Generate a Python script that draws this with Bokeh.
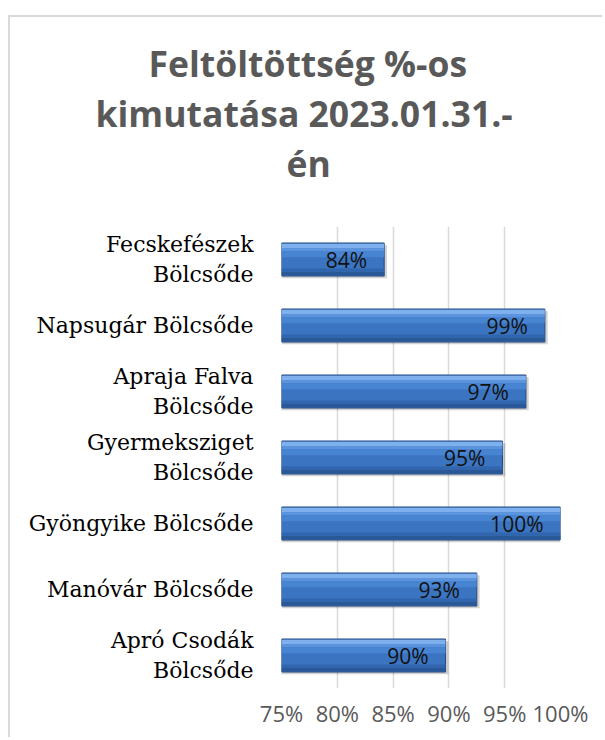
from bokeh.plotting import figure
from bokeh.models import FactorRange, Range1d, FixedTicker, Title, ColumnDataSource
from bokeh.transform import dodge
from bokeh.core.properties import value
from bokeh.embed import file_html
from bokeh.resources import INLINE

# ---- data ----
categories = [
    "Fecskefészek\nBölcsőde",
    "Napsugár Bölcsőde",
    "Apraja Falva\nBölcsőde",
    "Gyermeksziget\nBölcsőde",
    "Gyöngyike Bölcsőde",
    "Manóvár Bölcsőde",
    "Apró Csodák\nBölcsőde",
]
values = [84.2, 98.6, 96.9, 94.8, 100.0, 92.5, 89.7]
value_labels = ["84%", "99%", "97%", "95%", "100%", "93%", "90%"]
x_ticks = [75, 80, 85, 90, 95, 100]
x_tick_labels = ["75%", "80%", "85%", "90%", "95%", "100%"]
title_lines = ["Feltöltöttség %-os", "kimutatása 2023.01.31.-", "én"]

BASE = 75

src = ColumnDataSource(dict(cat=categories, val=values, lab=value_labels,
                            base=[BASE] * len(values),
                            shadow=[v + 0.25 for v in values]))

W, H = 594, 722
p = figure(width=W, height=H, output_backend="svg", toolbar_location=None,
           title=None,
           y_range=FactorRange(factors=list(reversed(categories))),
           x_range=Range1d(BASE, 100),
           min_border_left=271, min_border_right=44,
           min_border_top=209, min_border_bottom=51,
           background_fill_color="white", border_fill_color="white")
p.outline_line_color = None
p.margin = (15, 0, 0, 8)
p.styles = {"border-left": "2px solid #d9d9d9", "border-top": "2px solid #d9d9d9"}

# grid
p.ygrid.grid_line_color = None
p.xgrid.grid_line_color = "#d9d9d9"
p.xgrid.grid_line_width = 1.5

# x axis
p.xaxis.ticker = FixedTicker(ticks=x_ticks)
p.xaxis.major_label_overrides = {t: l for t, l in zip(x_ticks, x_tick_labels)}
p.xaxis.axis_line_color = None
p.xaxis.major_tick_line_color = None
p.xaxis.minor_tick_line_color = None
p.xaxis.major_label_standoff = 3
p.xaxis.major_label_text_font = "Open Sans"
p.xaxis.major_label_text_font_size = "22px"
p.xaxis.major_label_text_color = "#595959"

# y axis
p.yaxis.axis_line_color = None
p.yaxis.major_tick_line_color = None
p.yaxis.minor_tick_line_color = None
p.yaxis.major_label_standoff = 22
p.yaxis.major_label_text_font = "DejaVu Serif"
p.yaxis.major_label_text_font_size = "22px"
p.yaxis.major_label_text_color = "#000000"
p.yaxis.major_label_text_line_height = 1.2

# bars: shadow
p.hbar(y=dodge("cat", -0.035, range=p.y_range), left="base", right="shadow",
       height=0.5, source=src, fill_color="#000000", fill_alpha=0.18,
       line_color=None)
# main body
p.hbar(y="cat", left="base", right="val", height=0.5, source=src,
       fill_color="#3b74c0", line_color="#22467e", line_width=1)
# gradient strips (bevel look)
strips = [(0.205, 0.07, "#7eb0ee"), (0.15, 0.05, "#5b93dc"), (0.08, 0.09, "#4784d2"),
          (-0.17, 0.07, "#3165ad"), (-0.215, 0.05, "#2a5796")]
for off, h, col in strips:
    p.hbar(y=dodge("cat", off, range=p.y_range), left="base", right="val",
           height=h, source=src, fill_color=col, line_color=None)

# value labels
p.text(x="val", y="cat", text="lab", source=src, x_offset=-17,
       text_align="right", text_baseline="middle",
       text_font=value("Open Sans"), text_font_size="21px", text_color="#111111")

# spacer between title and plot area (innermost)
p.add_layout(Title(text=" ", standoff=37, text_font_size="1px",
                   text_color="white"), "above")
# title lines (innermost first)
offsets = [-133, -186, 5]
for line, off in reversed(list(zip(title_lines, offsets))):
    p.add_layout(Title(text=line, align="left", offset=off, standoff=0,
                       text_font="Open Sans", text_font_style="bold",
                       text_font_size="35.5px", text_color="#595959"), "above")

open("out.html", "w").write(file_html(p, INLINE))
